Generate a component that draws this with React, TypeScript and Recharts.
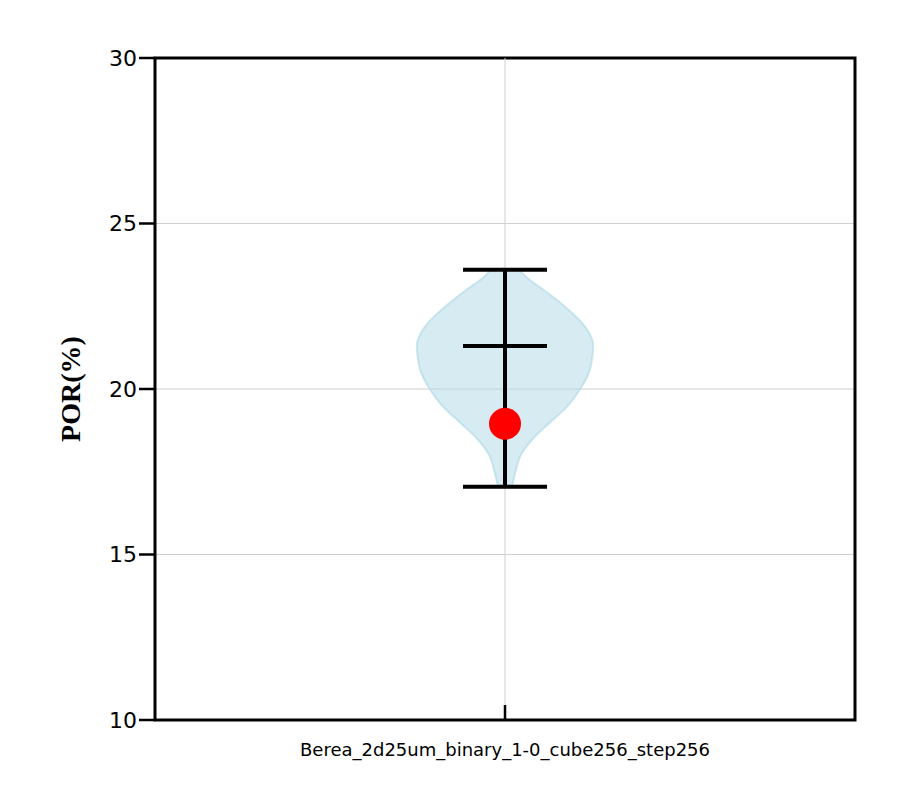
import { Area, ComposedChart, CartesianGrid, ReferenceArea, ReferenceLine, Scatter, XAxis, YAxis } from 'recharts'

const category = 'Berea_2d25um_binary_1-0_cube256_step256'
const yTicks = [10, 15, 20, 25, 30]
// violin outline: porosity level and half width (in x units)
const violinLevels = [17.05, 17.5, 18, 18.5, 19, 19.5, 20, 20.5, 21, 21.3, 21.7, 22, 22.5, 23, 23.3, 23.6]
const violinHalfWidths = [0.02, 0.03, 0.045, 0.08, 0.13, 0.18, 0.215, 0.24, 0.25, 0.252, 0.24, 0.22, 0.17, 0.11, 0.07, 0.04]
const statMin = 17.05
const statMax = 23.6
const statMean = 21.3
const markerValue = 18.95
const capHalf = 0.12

const violinData = violinLevels.map((y, i) => ({ y, range: [1 - violinHalfWidths[i], 1 + violinHalfWidths[i]] }))

function XTick(props: any) {
  const { x, y } = props
  return (
    <g>
      <line x1={x} x2={x} y1={y - 17} y2={y - 2} stroke="#000" strokeWidth={2.5} />
      <text x={x} y={y + 34} textAnchor="middle" fontSize={18} fill="#000" fontFamily="DejaVu Sans">
        {category}
      </text>
    </g>
  )
}

export default function App() {
  return (
    <div style={{ margin: -8, width: 900, height: 810 }}>
      <ComposedChart
        width={900}
        height={810}
        layout="vertical"
        data={violinData}
        margin={{ top: 58, right: 45, bottom: 0, left: 95 }}
      >
        <CartesianGrid stroke="#d0d0d0" strokeWidth={1} vertical={false} horizontalValues={[15, 20, 25]} />
        <ReferenceLine x={1} stroke="#d0d0d0" strokeWidth={1} />
        <XAxis
          type="number"
          domain={[0, 2]}
          ticks={[1]}
          axisLine={false}
          tickLine={false}
          tickSize={0}
          tickMargin={2}
          tick={<XTick />}
          height={90}
        />
        <YAxis
          type="number"
          dataKey="y"
          domain={[10, 30]}
          reversed
          ticks={yTicks}
          width={60}
          axisLine={false}
          tickSize={16}
          tickLine={{ stroke: '#000', strokeWidth: 2.5 }}
          tick={{ fill: '#000', fontSize: 22, fontFamily: 'DejaVu Sans' }}
          label={{ value: 'POR(%)', angle: -90, position: 'insideLeft', offset: -25, style: { fontFamily: 'Liberation Serif', fontWeight: 'bold', fontSize: 28, fill: '#000', textAnchor: 'middle' } }}
        />
        <Area
          dataKey="range"
          type="monotone"
          fill="#add8e6"
          fillOpacity={0.5}
          stroke="#add8e6"
          strokeOpacity={0.6}
          strokeWidth={2}
          isAnimationActive={false}
        />
        <ReferenceLine segment={[{ x: 1, y: statMin }, { x: 1, y: statMax }]} stroke="#000" strokeWidth={4} />
        <ReferenceLine segment={[{ x: 1 - capHalf, y: statMin }, { x: 1 + capHalf, y: statMin }]} stroke="#000" strokeWidth={4} />
        <ReferenceLine segment={[{ x: 1 - capHalf, y: statMax }, { x: 1 + capHalf, y: statMax }]} stroke="#000" strokeWidth={4} />
        <ReferenceLine segment={[{ x: 1 - capHalf, y: statMean }, { x: 1 + capHalf, y: statMean }]} stroke="#000" strokeWidth={4} />
        <Scatter
          data={[{ x: 1, y: markerValue }]}
          dataKey="x"
          fill="red"
          isAnimationActive={false}
          shape={(p: any) => <circle cx={p.cx} cy={p.cy} r={16} fill="red" />}
        />
        <ReferenceArea x1={0} x2={2} y1={10} y2={30} fill="none" stroke="#000" strokeWidth={3} ifOverflow="visible" />
      </ComposedChart>
    </div>
  )
}
